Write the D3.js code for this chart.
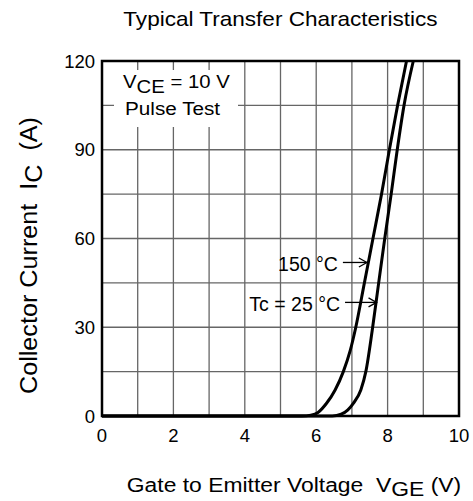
<!DOCTYPE html>
<html>
<head>
<meta charset="utf-8">
<script src="https://cdn.jsdelivr.net/npm/d3@7"></script>
<style>
  body { margin: 0; background: #fff; }
  text { font-family: "Liberation Sans", Arial, sans-serif; fill: #000; }
</style>
</head>
<body>
<svg id="chart"></svg>
<script>
// Tc = 150 C curve (VGE in V, IC in A)
const vge150 = [0, 5.6, 5.85, 6.05, 6.29, 6.53, 6.76, 6.95, 7.1, 7.35, 7.59, 7.83, 8.05, 8.28, 8.53];
const ic150 = [0, 0, 0.3, 1.2, 4.3, 8.8, 15, 22, 29.5, 45, 60, 75, 90, 105, 120];
// Tc = 25 C curve
const vge25 = [0, 6.45, 6.7, 6.88, 7.04, 7.25, 7.39, 7.57, 7.75, 7.92, 8.1, 8.27, 8.46, 8.72];
const ic25 = [0, 0, 0.6, 2, 4.3, 8.8, 15, 29, 45, 60, 75, 90, 105, 120];

const xTicks = [0, 2, 4, 6, 8, 10];
const yTicks = [0, 30, 60, 90, 120];

// arrow tips of the two labels, in data units
const annotLabels = ["150 °C", "Tc = 25 °C"];
const annotV = [7.42, 7.69];
const annotI = [51.9, 38.4];

const width = 473;
const height = 501;
const plot = { left: 102, top: 61, right: 459, bottom: 416 };

const svg = d3.select('#chart')
    .attr('width', width)
    .attr('height', height);

const x = d3.scaleLinear().domain([0, 10]).range([plot.left, plot.right]);
const y = d3.scaleLinear().domain([0, 120]).range([plot.bottom, plot.top]);

// grid
const grid = svg.append('g');
grid.selectAll('line.v')
    .data(d3.range(1, 10))
    .enter().append('line')
    .attr('x1', d => x(d)).attr('x2', d => x(d))
    .attr('y1', plot.top).attr('y2', plot.bottom)
    .attr('stroke', '#666').attr('stroke-width', 1.3);
grid.selectAll('line.h')
    .data(d3.range(15, 120, 15))
    .enter().append('line')
    .attr('y1', d => y(d)).attr('y2', d => y(d))
    .attr('x1', plot.left).attr('x2', plot.right)
    .attr('stroke', '#666').attr('stroke-width', 1.3);

// white box behind the test conditions
svg.append('rect')
    .attr('x', 114).attr('y', 70)
    .attr('width', 124).attr('height', 57)
    .attr('fill', '#fff');

// text is a bit wider in the original, stretch it horizontally
const legend = svg.append('g');
const l1 = legend.append('text')
    .attr('transform', 'translate(123,88) scale(1.07,1)')
    .attr('font-size', 19);
l1.append('tspan').text('V');
l1.append('tspan').attr('dy', 5).text('CE');
l1.append('tspan').attr('dy', -5).text(' = 10 V');
legend.append('text')
    .attr('transform', 'translate(125,115) scale(1.09,1)')
    .attr('font-size', 19)
    .text('Pulse Test');

// curves
const line = d3.line()
    .x(d => x(d[0]))
    .y(d => y(d[1]))
    .curve(d3.curveMonotoneX);

[[vge150, ic150], [vge25, ic25]].forEach(([vs, is]) => {
    svg.append('path')
        .attr('d', line(vs.map((v, i) => [v, is[i]])))
        .attr('fill', 'none')
        .attr('stroke', '#000')
        .attr('stroke-width', 3);
});

// frame
svg.append('rect')
    .attr('x', plot.left).attr('y', plot.top)
    .attr('width', plot.right - plot.left)
    .attr('height', plot.bottom - plot.top)
    .attr('fill', 'none')
    .attr('stroke', '#000')
    .attr('stroke-width', 2.5);

// tick labels
svg.selectAll('text.xt')
    .data(xTicks)
    .enter().append('text')
    .attr('x', d => x(d))
    .attr('y', 442)
    .attr('text-anchor', 'middle')
    .attr('font-size', 18.5)
    .text(d => d);
svg.selectAll('text.yt')
    .data(yTicks)
    .enter().append('text')
    .attr('x', 95)
    .attr('y', d => y(d) + 6.5)
    .attr('text-anchor', 'end')
    .attr('font-size', 18.5)
    .text(d => d);

// annotations with arrows
const arrowLen = [24, 31.5];
annotLabels.forEach((lab, i) => {
    const tx = x(annotV[i]);
    const ty = y(annotI[i]);
    const sx = tx - arrowLen[i];
    svg.append('line')
        .attr('x1', sx).attr('x2', tx)
        .attr('y1', ty).attr('y2', ty)
        .attr('stroke', '#000').attr('stroke-width', 1.3);
    svg.append('path')
        .attr('d', `M${tx - 8},${ty - 4.5} L${tx},${ty} L${tx - 8},${ty + 4.5}`)
        .attr('fill', 'none')
        .attr('stroke', '#000').attr('stroke-width', 1.3);
    svg.append('text')
        .attr('x', sx - 5)
        .attr('y', ty + 8.5)
        .attr('text-anchor', 'end')
        .attr('font-size', 19.5)
        .text(lab);
});

// title
svg.append('text')
    .attr('transform', `translate(${(plot.left + plot.right) / 2},26) scale(1.1,1)`)
    .attr('text-anchor', 'middle')
    .attr('font-size', 20.5)
    .text('Typical Transfer Characteristics');

// x axis label
const xl = svg.append('text')
    .attr('transform', 'translate(294,491.5) scale(1.09,1)')
    .attr('text-anchor', 'middle')
    .attr('font-size', 21);
xl.append('tspan').text('Gate to Emitter Voltage\u00a0\u00a0V');
xl.append('tspan').attr('dy', 4.5).text('GE');
xl.append('tspan').attr('dy', -4.5).text(' (V)');

// y axis label
const yl = svg.append('text')
    .attr('transform', 'translate(37,255.5) rotate(-90) scale(1.095,1)')
    .attr('text-anchor', 'middle')
    .attr('font-size', 23);
yl.append('tspan').text('Collector Current\u00a0\u00a0I');
yl.append('tspan').attr('dy', 5).text('C');
yl.append('tspan').attr('dy', -5).text('\u00a0\u00a0(A)');
</script>
</body>
</html>
